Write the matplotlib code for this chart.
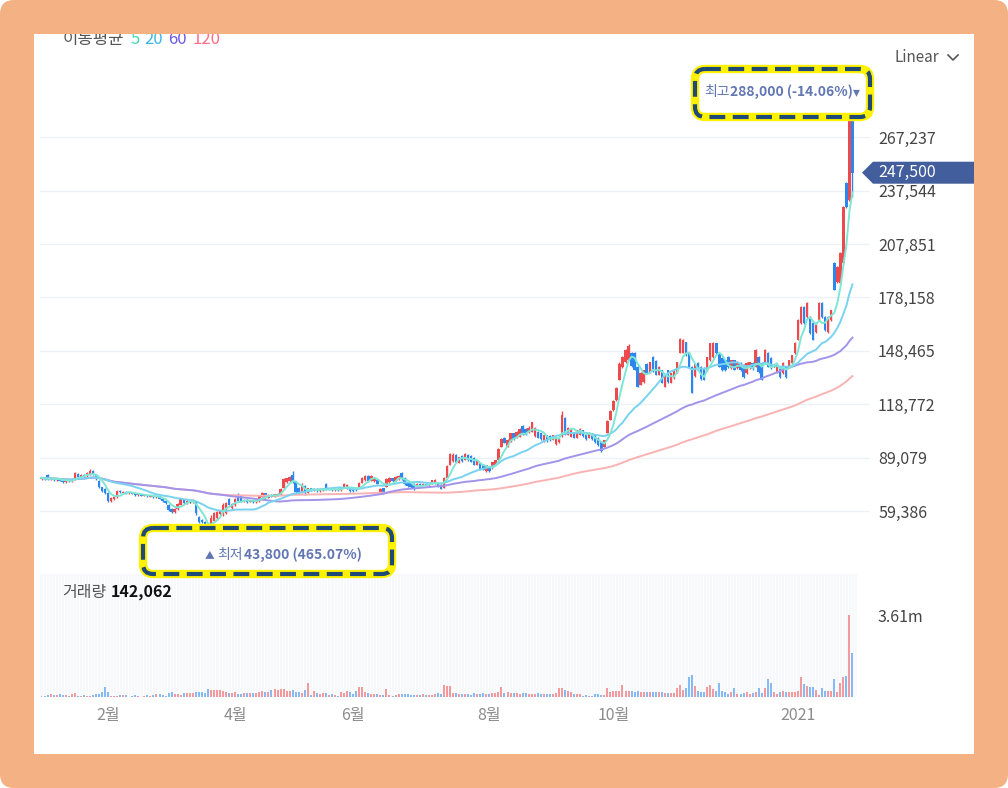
import numpy as np
import pandas as pd
import matplotlib
matplotlib.use('Agg')
import matplotlib.pyplot as plt
from matplotlib.patches import FancyBboxPatch, Rectangle, Polygon

plt.rcParams['font.family'] = ['Noto Sans CJK KR', 'DejaVu Sans']

# daily candles, prices in thousand won (2019-12-27 .. 2021-01-28)
opens = [
    77.0, 77.8, 79.5, 77.3, 77.8, 76.6, 77.5, 76.2, 75.6, 76.5,
    75.8, 77.0, 80.0, 78.3, 79.3, 78.6, 80.0, 81.5, 79.8, 76.0,
    72.5, 71.5, 69.5, 65.0, 66.0, 67.0, 70.5, 69.6, 70.0, 69.2,
    69.8, 69.0, 68.2, 68.6, 67.9, 68.3, 67.6, 67.8, 67.0, 67.5,
    66.2, 65.0, 63.0, 60.5, 59.0, 60.5, 63.0, 65.5, 64.0, 64.5,
    64.2, 64.5, 56.0, 54.5, 53.0, 51.5, 48.0, 54.0, 55.5, 57.5,
    57.5, 58.5, 66.0, 61.0, 62.5, 68.5, 67.5, 64.8, 65.6, 64.6,
    65.2, 64.4, 64.8, 67.0, 69.2, 66.8, 68.2, 67.4, 67.8, 68.5,
    72.0, 75.5, 76.0, 79.5, 75.5, 72.4, 70.0, 73.5, 69.4, 72.0,
    70.8, 71.6, 70.6, 71.0, 74.5, 71.2, 71.8, 70.8, 71.8, 71.0,
    72.2, 72.0, 72.2, 71.6, 71.6, 72.2, 75.0, 76.6, 78.8, 76.0,
    76.0, 76.6, 70.0, 72.0, 73.0, 75.5, 77.5, 76.2, 77.0, 80.5,
    78.0, 75.2, 75.0, 74.6, 73.4, 74.6, 73.6, 74.4, 73.6, 74.4,
    74.6, 75.2, 73.8, 72.4, 78.0, 85.0, 87.0, 90.5, 86.2, 90.0,
    88.0, 90.8, 90.0, 89.0, 85.2, 86.0, 85.0, 81.4, 83.8, 83.4,
    85.2, 88.0, 95.2, 100.2, 95.2, 98.2, 102.6, 100.2, 100.8, 106.8,
    105.2, 103.2, 103.4, 101.0, 103.2, 102.6, 98.0, 101.4, 101.2, 99.0,
    96.4, 97.6, 101.0, 111.0, 101.8, 100.8, 103.0, 100.2, 101.8, 104.2,
    103.0, 100.2, 102.6, 101.4, 100.0, 97.6, 95.2, 103.0, 110.2, 115.6,
    121.2, 132.4, 139.2, 142.0, 143.6, 147.0, 147.0, 139.4, 129.6, 131.2,
    141.4, 136.8, 144.8, 143.0, 135.2, 137.6, 128.6, 137.6, 130.8, 133.4,
    136.8, 147.4, 147.4, 153.2, 147.2, 139.4, 134.2, 141.6, 139.4, 138.8,
    137.8, 143.4, 145.0, 152.6, 147.2, 144.4, 143.2, 145.0, 139.0, 143.2,
    139.0, 141.6, 140.6, 136.2, 139.0, 141.6, 139.6, 145.0, 141.6, 141.8,
    147.2, 144.4, 140.0, 136.8, 139.4, 136.2, 139.4, 139.6, 141.8, 147.2,
    154.6, 164.0, 172.6, 167.2, 167.2, 164.0, 158.8, 165.6, 175.0, 167.2,
    159.0, 165.6, 197.2, 186.6, 186.0, 197.2, 241.6, 232.4, 276.0,
]
closes = [
    77.8, 77.2, 77.3, 77.8, 76.6, 77.5, 76.2, 75.6, 76.5, 75.8,
    76.6, 80.5, 78.5, 79.3, 78.6, 80.3, 81.8, 79.8, 77.3, 72.5,
    70.5, 69.5, 65.0, 66.8, 67.0, 70.5, 69.8, 70.0, 69.4, 69.8,
    69.0, 68.2, 68.6, 67.9, 68.3, 67.6, 67.8, 67.0, 67.5, 66.2,
    65.0, 64.0, 60.0, 59.0, 60.5, 63.5, 66.0, 64.0, 65.0, 64.5,
    65.2, 58.0, 53.5, 53.0, 51.5, 46.5, 55.5, 58.0, 59.0, 59.6,
    63.0, 64.0, 63.0, 63.5, 66.0, 65.0, 65.2, 65.6, 64.6, 65.2,
    64.4, 65.0, 68.0, 69.5, 66.8, 68.2, 67.4, 68.6, 69.0, 71.5,
    77.0, 77.5, 78.2, 76.0, 70.2, 70.0, 74.0, 69.2, 72.0, 71.0,
    71.6, 70.6, 71.2, 71.8, 71.5, 71.8, 70.8, 71.6, 71.0, 72.2,
    74.6, 73.8, 70.6, 70.6, 70.8, 75.0, 77.5, 78.6, 76.2, 78.6,
    77.8, 74.6, 71.6, 69.6, 77.2, 77.8, 76.0, 78.2, 79.0, 77.2,
    74.4, 73.2, 72.6, 71.8, 74.6, 73.6, 74.4, 73.6, 74.2, 76.4,
    76.6, 73.4, 71.8, 78.0, 84.5, 91.0, 90.8, 86.4, 89.2, 87.0,
    91.2, 87.8, 86.8, 85.2, 87.4, 82.6, 82.4, 84.8, 81.4, 86.4,
    87.6, 94.0, 99.6, 97.4, 98.8, 102.6, 99.2, 103.2, 105.2, 101.8,
    101.8, 105.8, 108.6, 105.6, 100.2, 99.2, 101.4, 98.2, 98.6, 101.4,
    100.2, 99.6, 113.0, 101.8, 105.6, 105.2, 100.2, 104.2, 105.2, 101.0,
    99.2, 103.0, 99.2, 97.6, 96.2, 93.0, 98.6, 109.6, 115.2, 120.8,
    128.0, 141.4, 144.8, 148.8, 151.4, 139.8, 138.0, 128.6, 136.4, 137.6,
    136.2, 142.0, 137.0, 135.2, 139.4, 130.8, 134.8, 131.2, 136.0, 137.6,
    142.0, 155.2, 154.4, 146.2, 139.6, 125.2, 141.4, 137.8, 133.0, 132.4,
    144.8, 152.6, 152.8, 147.2, 139.6, 137.8, 137.8, 139.4, 143.2, 138.0,
    142.2, 137.8, 134.0, 141.6, 142.0, 138.2, 148.8, 136.8, 132.4, 148.8,
    139.6, 139.0, 140.0, 140.6, 134.0, 141.8, 134.0, 143.2, 146.0, 152.8,
    165.4, 172.6, 164.0, 175.0, 158.4, 154.6, 164.0, 175.0, 167.2, 160.0,
    167.2, 171.0, 182.4, 195.0, 202.8, 228.4, 228.4, 276.0, 247.5,
]
highs = [
    78.3, 78.3, 80.2, 78.5, 78.2, 78.0, 77.8, 76.8, 77.0, 76.9,
    77.0, 81.2, 80.5, 79.8, 79.8, 80.8, 82.5, 82.0, 80.2, 76.5,
    73.0, 72.0, 70.0, 67.2, 67.5, 71.0, 70.8, 70.4, 70.3, 70.2,
    70.0, 69.3, 69.0, 68.8, 68.7, 68.5, 68.2, 68.0, 67.9, 67.7,
    66.6, 65.4, 63.5, 61.0, 61.0, 64.0, 66.8, 66.0, 65.5, 65.2,
    65.8, 65.0, 56.5, 55.0, 53.8, 52.0, 57.0, 58.8, 59.6, 60.2,
    63.8, 64.5, 66.8, 64.0, 66.5, 69.4, 68.3, 66.0, 66.0, 65.6,
    65.5, 65.5, 68.5, 70.0, 69.6, 68.6, 68.6, 69.0, 69.4, 72.2,
    77.7, 78.0, 78.6, 81.5, 76.0, 72.8, 75.0, 74.0, 72.4, 72.4,
    72.0, 71.9, 71.6, 72.2, 75.0, 72.2, 72.0, 72.0, 72.2, 72.6,
    75.0, 74.4, 72.6, 72.0, 72.0, 75.5, 78.3, 79.4, 79.4, 79.4,
    78.3, 77.0, 72.2, 72.4, 77.7, 78.3, 78.0, 78.6, 79.4, 81.0,
    78.3, 75.5, 75.5, 75.0, 75.0, 75.0, 74.8, 74.8, 74.6, 76.8,
    77.0, 75.5, 74.2, 78.3, 85.0, 91.6, 91.6, 91.0, 89.6, 90.5,
    91.6, 91.2, 90.5, 89.4, 87.7, 86.4, 85.4, 85.2, 84.2, 86.8,
    88.0, 94.4, 100.2, 100.6, 99.2, 103.0, 103.0, 103.6, 105.6, 107.2,
    105.6, 106.4, 109.0, 106.2, 103.6, 103.0, 101.8, 101.8, 101.6, 101.8,
    100.6, 100.0, 114.8, 111.6, 106.0, 105.6, 103.4, 104.6, 105.6, 104.6,
    103.4, 103.4, 103.0, 101.8, 100.4, 98.0, 99.0, 110.0, 115.6, 121.2,
    128.6, 142.0, 145.4, 149.4, 152.2, 147.6, 147.6, 139.8, 136.8, 138.0,
    141.8, 142.4, 145.4, 143.4, 139.8, 138.0, 135.2, 138.0, 136.4, 138.0,
    142.4, 155.8, 154.8, 153.6, 147.6, 139.8, 141.8, 142.0, 139.8, 139.2,
    145.2, 153.0, 153.2, 153.0, 147.6, 144.8, 143.6, 145.4, 143.6, 143.6,
    142.6, 142.0, 141.0, 142.0, 142.4, 142.0, 149.4, 145.4, 142.0, 149.2,
    147.6, 144.8, 141.0, 141.0, 139.8, 142.2, 139.8, 143.6, 146.4, 153.2,
    166.0, 173.2, 173.2, 175.4, 167.6, 164.4, 164.4, 175.4, 175.4, 167.6,
    167.6, 171.4, 197.8, 195.6, 203.4, 229.0, 242.2, 288.0, 280.0,
]
lows = [
    76.6, 76.8, 76.9, 76.8, 76.2, 76.0, 75.8, 75.0, 75.2, 75.3,
    75.4, 76.8, 78.0, 78.0, 78.0, 78.3, 79.6, 79.3, 76.8, 72.0,
    70.0, 69.0, 64.4, 64.4, 65.5, 66.8, 69.3, 69.2, 69.0, 68.9,
    68.6, 67.8, 67.8, 67.5, 67.5, 67.2, 67.2, 66.6, 66.5, 65.8,
    64.5, 63.5, 59.5, 58.5, 58.5, 60.2, 62.7, 63.5, 63.5, 63.8,
    63.8, 57.2, 52.8, 52.5, 50.8, 43.8, 47.5, 53.2, 54.6, 57.0,
    56.5, 57.5, 62.5, 60.5, 62.0, 64.5, 64.6, 64.2, 64.0, 64.2,
    63.9, 64.0, 64.4, 66.6, 66.0, 66.5, 67.0, 67.0, 67.5, 68.3,
    71.8, 75.0, 75.5, 75.2, 69.4, 69.4, 69.5, 68.4, 69.2, 70.5,
    70.4, 70.2, 70.2, 70.6, 71.2, 70.8, 70.4, 70.4, 70.6, 70.6,
    72.0, 71.4, 70.2, 70.2, 70.4, 72.0, 74.8, 76.2, 75.5, 75.8,
    75.5, 74.2, 69.4, 69.0, 72.7, 75.0, 75.5, 75.8, 76.6, 76.6,
    73.8, 72.6, 72.2, 71.0, 73.0, 73.2, 73.2, 73.2, 73.2, 74.2,
    74.4, 72.7, 71.4, 72.2, 77.7, 84.8, 86.6, 86.0, 86.0, 86.6,
    87.7, 87.2, 86.4, 85.0, 84.8, 82.2, 82.0, 81.0, 81.0, 83.0,
    85.0, 87.7, 95.0, 97.0, 95.0, 97.8, 98.8, 100.0, 100.4, 101.4,
    101.4, 103.0, 103.2, 100.4, 99.8, 98.8, 97.6, 97.8, 98.2, 98.8,
    96.0, 97.2, 100.6, 101.4, 101.4, 100.4, 99.8, 99.8, 101.4, 100.6,
    98.8, 99.8, 98.8, 97.2, 95.8, 92.4, 95.0, 102.6, 109.8, 115.2,
    120.8, 132.0, 138.8, 141.6, 143.2, 139.4, 137.6, 128.2, 129.2, 130.8,
    135.8, 136.4, 136.6, 134.8, 134.8, 130.4, 128.2, 130.8, 130.4, 133.0,
    136.4, 147.0, 147.0, 145.8, 139.2, 124.8, 133.8, 137.4, 132.2, 132.0,
    137.4, 143.0, 144.6, 146.8, 139.2, 137.4, 137.4, 139.0, 138.6, 137.6,
    138.6, 137.4, 133.6, 135.8, 138.6, 137.8, 139.2, 136.4, 132.0, 141.4,
    139.2, 138.6, 139.2, 136.4, 133.6, 135.8, 133.6, 139.2, 141.4, 146.8,
    154.2, 163.6, 163.6, 166.8, 158.0, 154.2, 158.4, 165.2, 166.8, 159.6,
    158.6, 165.2, 182.0, 186.2, 185.6, 196.8, 228.0, 232.0, 234.0,
]
# volume in thousand shares
volumes = [
    40, 60, 90, 120, 80, 70, 150, 90, 110, 60,
    150, 170, 60, 50, 70, 40, 60, 110, 140, 150,
    200, 440, 220, 40, 60, 30, 90, 80, 70, 20,
    60, 70, 60, 20, 40, 70, 60, 90, 130, 150,
    110, 60, 170, 200, 150, 140, 110, 170, 190, 170,
    160, 210, 230, 200, 190, 340, 310, 320, 300, 320,
    270, 220, 180, 180, 210, 150, 130, 180, 190, 160,
    180, 170, 230, 260, 200, 220, 330, 360, 300, 370,
    350, 250, 250, 330, 220, 200, 180, 300, 600, 110,
    270, 180, 140, 160, 170, 110, 120, 90, 30, 200,
    180, 250, 240, 130, 280, 450, 440, 220, 190, 150,
    150, 120, 100, 80, 350, 80, 60, 80, 130, 150,
    150, 130, 110, 100, 70, 90, 120, 100, 90, 110,
    150, 180, 140, 520, 500, 500, 170, 170, 150, 140,
    130, 130, 110, 180, 150, 140, 180, 150, 130, 160,
    180, 200, 430, 190, 230, 180, 170, 160, 140, 160,
    170, 140, 120, 150, 160, 130, 140, 120, 130, 140,
    170, 380, 400, 300, 260, 200, 130, 120, 120, 60,
    80, 60, 60, 130, 150, 90, 100, 380, 200, 280,
    280, 270, 520, 270, 270, 260, 200, 260, 220, 230,
    210, 240, 200, 230, 200, 220, 170, 180, 160, 170,
    380, 520, 320, 400, 880, 980, 470, 280, 220, 240,
    440, 510, 350, 260, 600, 260, 200, 150, 200, 400,
    150, 140, 180, 200, 150, 180, 200, 400, 190, 400,
    800, 600, 200, 150, 200, 250, 220, 200, 220, 230,
    250, 880, 560, 480, 420, 440, 320, 100, 400, 280,
    280, 250, 800, 240, 600, 880, 920, 3600, 1950,
]

holidays = ['2019-12-31', '2020-01-01', '2020-01-24', '2020-01-27', '2020-04-15',
            '2020-04-30', '2020-05-01', '2020-05-05', '2020-08-17', '2020-09-30',
            '2020-10-01', '2020-10-02', '2020-10-09', '2020-12-25', '2020-12-31',
            '2021-01-01']
tick_months = [(2020, 2), (2020, 4), (2020, 6), (2020, 8), (2020, 10), (2021, 1)]
month_labels = ['2월', '4월', '6월', '8월', '10월', '2021']
price_ticks = [59386, 89079, 118772, 148465, 178158, 207851, 237544, 267237]
vol_tick = 3.61e6
ma_windows = [120, 60, 20, 5]
ma_colors = ['#F9B3B3', '#A194EA', '#78D2F0', '#7EE6D4']
legend_colors = {'5': '#45D9B4', '20': '#3AB7E9', '60': '#6B5BE6', '120': '#FF6F86'}
volume_last = 142062
low_pct, high_pct = '465.07%', '-14.06%'

RED, BLUE, DOJI = '#EE4A4E', '#2D86EE', '#222222'
VRED, VBLUE = '#F39A9E', '#86BAF5'
ORANGE = '#F4B183'

o = np.array(opens) * 1000
c = np.array(closes) * 1000
h = np.array(highs) * 1000
l = np.array(lows) * 1000
v = np.array(volumes) * 1000
idx = np.arange(len(c))

dates = pd.bdate_range('2019-12-27', '2021-01-28')
dates = dates[~dates.isin(pd.to_datetime(holidays))][:len(c)]
tick_pos = [int(np.argmax((dates.year == y) & (dates.month == m))) for y, m in tick_months]

W, H = 1008, 788
fig = plt.figure(figsize=(W / 100, H / 100), dpi=100)


def px_axes(x0, y0, x1, y1, z):
    a = fig.add_axes([x0 / W, 1 - y1 / H, (x1 - x0) / W, (y1 - y0) / H])
    a.set_zorder(z)
    return a


# background frame
bg = px_axes(0, 0, W, H, 0)
bg.set_xlim(0, W)
bg.set_ylim(H, 0)
bg.axis('off')
bg.add_patch(FancyBboxPatch((0, 0), W, H, boxstyle='round,pad=0,rounding_size=14',
                            fc=ORANGE, ec='none'))
bg.add_patch(Rectangle((34, 34), 940, 720, fc='white', ec='none'))

step, first_x = 3.026, 41.5  # px per candle, centre of first candle

# price panel
ax = px_axes(40, 95, 870, 560, 1)
ax.set_facecolor('none')
ax.set_xlim((40 - first_x) / step, (870 - first_x) / step)
ax.set_ylim(32140, 290711)
for s in ax.spines.values():
    s.set_visible(False)
ax.grid(axis='y', color='#EEF1F6', lw=1)
ax.set_axisbelow(True)
ax.set_xticks([])
ax.yaxis.tick_right()
ax.set_yticks(price_ticks)
ax.set_yticklabels([f'{t:,}' for t in price_ticks])
ax.tick_params(axis='y', length=0, pad=5.8, labelsize=11.5, labelcolor='#444444')

colors = np.where(c > o, RED, np.where(c < o, BLUE, DOJI))
ax.vlines(idx, l, h, colors=colors, lw=1.0, zorder=2)
body = np.maximum(np.abs(c - o), 500)
ax.bar(idx, body, bottom=np.minimum(o, c) - (body - np.abs(c - o)) / 2,
       width=0.8, color=colors, lw=0, zorder=2)

cs = pd.Series(c)
for w, col in zip(ma_windows, ma_colors):
    ax.plot(idx, cs.rolling(w, min_periods=1).mean(), color=col, lw=1.4, zorder=3)

# volume panel
vx = px_axes(40, 574, 857, 697, 1)
vx.set_facecolor('#F6F8FC')
vx.set_xlim((40 - first_x) / step, (857 - first_x) / step)
vtop = vol_tick * 123 / 82
vx.set_ylim(0, vtop)
for s in vx.spines.values():
    s.set_visible(False)
vx.vlines(idx + 0.5, 0, vtop, color='white', lw=0.6, zorder=1)
vcolors = np.where(c >= o, VRED, VBLUE)
vx.bar(idx, v, width=0.66, color=vcolors, lw=0, zorder=2)
vx.yaxis.tick_right()
vx.set_yticks([vol_tick])
vx.set_yticklabels(['3.61m'])
vx.set_xticks(tick_pos)
vx.set_xticklabels(month_labels)
vx.tick_params(axis='y', length=0, pad=15, labelsize=11.5, labelcolor='#444444')
vx.tick_params(axis='x', length=0, pad=7, labelsize=11.5, labelcolor='#8C8C8C')

# overlay: texts, boxes, tags
ov = px_axes(0, 0, W, H, 3)
ov.set_xlim(0, W)
ov.set_ylim(H, 0)
ov.axis('off')
renderer = fig.canvas.get_renderer()


def chain(x, y, parts, va='center', z=4):
    for s, gap, kw in parts:
        t = ov.text(x, y, s, va=va, ha='left', zorder=z, **kw)
        x += t.get_window_extent(renderer).width + gap
    return x


chain(63, 44, [('이동평균', 6, dict(fontsize=12, color='#555555'))] +
      [(k, 5, dict(fontsize=12, color=col)) for k, col in legend_colors.items()],
      va='baseline', z=1)
ov.add_patch(Rectangle((16, 0), W - 32, 34, fc=ORANGE, ec='none', zorder=2))

ov.text(895, 57, 'Linear', fontsize=11, color='#555555', va='center', ha='left')
ov.plot([948, 953, 958], [55, 60, 55], color='#555555', lw=1.2)


def ypx(val):
    return H - ax.transData.transform((0, val))[1]


yl = ypx(c[-1])
ov.add_patch(Polygon([(862, yl), (873, yl - 11), (974, yl - 11), (974, yl + 11), (873, yl + 11)],
                     closed=True, fc='#425E9C', ec='none', zorder=3))
ov.text(878, yl, f'{int(c[-1]):,}', color='white', fontsize=11.5, va='center', ha='left', zorder=4)


def hl_box(x, y, w, hgt):
    ov.add_patch(FancyBboxPatch((x, y), w, hgt, boxstyle='round,pad=0,rounding_size=10',
                                fc='white', ec='#FFF200', lw=6, zorder=3))
    ov.add_patch(FancyBboxPatch((x, y), w, hgt, boxstyle='round,pad=0,rounding_size=10',
                                fc='none', ec='#1F4A78', lw=3, ls=(0, (3.8, 1.8)), zorder=3.5))


TXT = '#6176B2'
hl_box(695, 69, 175, 48)
chain(704, 92, [('최고', 1, dict(fontsize=10, color=TXT)),
                (f'{int(h.max()):,} ({high_pct})', 0, dict(fontsize=10, color=TXT, fontweight='bold')),
                ('▾', 0, dict(fontsize=10, color=TXT))])

hl_box(143, 528, 249, 46)
chain(205, 555, [('▲', 2, dict(fontsize=7, color=TXT)),
                 ('최저', 2, dict(fontsize=10, color=TXT)),
                 (f'{int(l.min()):,} ({low_pct})', 0, dict(fontsize=10, color=TXT, fontweight='bold'))])

chain(62, 592, [('거래량', 5, dict(fontsize=11.5, color='#555555')),
                (f'{volume_last:,}', 0, dict(fontsize=11.5, color='#111111', fontweight='bold'))])

fig.savefig('out.png', dpi=100)
